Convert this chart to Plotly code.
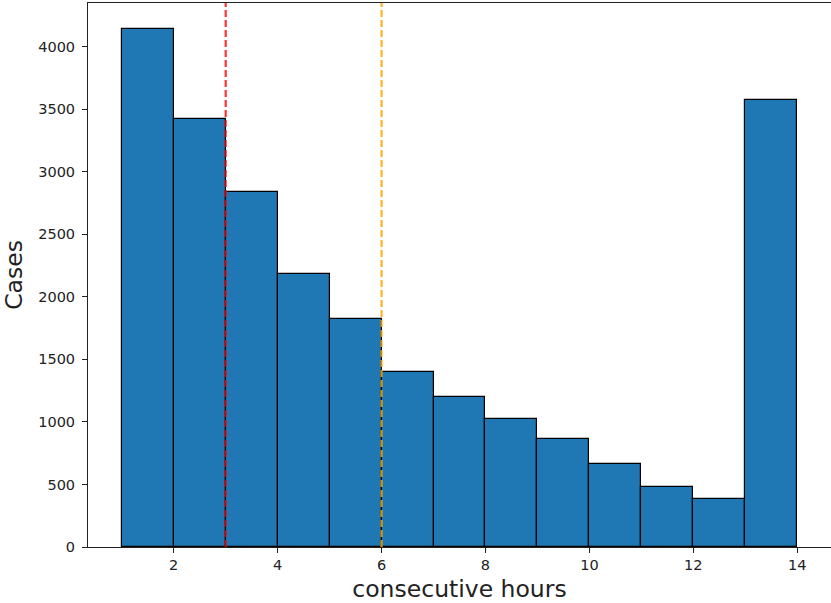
import plotly.graph_objects as go

bin_left = [1, 2, 3, 4, 5, 6, 7, 8, 9, 10, 11, 12, 13]
counts = [4142, 3425, 2835, 2182, 1822, 1398, 1197, 1024, 864, 664, 476, 381, 3575]
red_line_x = 3
orange_line_x = 6
x_ticks = [2, 4, 6, 8, 10, 12, 14]
y_ticks = [0, 500, 1000, 1500, 2000, 2500, 3000, 3500, 4000]

centers = [b + 0.5 for b in bin_left]
ymax = max(counts) * 1.05

fig = go.Figure()
fig.add_trace(go.Bar(
    x=centers, y=counts, width=[1] * len(counts),
    marker=dict(color="#1f77b4", line=dict(color="black", width=1.2)),
    showlegend=False,
))
fig.add_trace(go.Scatter(
    x=[red_line_x, red_line_x], y=[0, ymax], mode="lines",
    line=dict(color="rgba(255,0,0,0.8)", width=2.2, dash="7px,3px"), showlegend=False,
))
fig.add_trace(go.Scatter(
    x=[orange_line_x, orange_line_x], y=[0, ymax], mode="lines",
    line=dict(color="rgba(255,165,0,0.85)", width=2.2, dash="7px,3px"), showlegend=False,
))

axis_common = dict(
    showline=True, linecolor="#222", linewidth=1,
    ticks="outside", ticklen=5, tickcolor="#222", showgrid=False, zeroline=False,
    tickfont=dict(family="DejaVu Sans", size=14.5, color="#222"),
)
fig.update_layout(
    width=831, height=603,
    margin=dict(l=88, r=0, t=3, b=56),
    plot_bgcolor="white", paper_bgcolor="white",
    bargap=0,
    xaxis=dict(range=[0.35, 14.65], tickvals=x_ticks, mirror=True,
               title=dict(text="consecutive hours", font=dict(family="DejaVu Sans", size=23.5, color="#222"), standoff=8),
               **axis_common),
    yaxis=dict(range=[0, ymax], tickvals=y_ticks, mirror=False, ticklabelstandoff=4,
               title=dict(text="Cases", font=dict(family="DejaVu Sans", size=23.5, color="#222"), standoff=10),
               **axis_common),
)
fig.write_html("out.html")
